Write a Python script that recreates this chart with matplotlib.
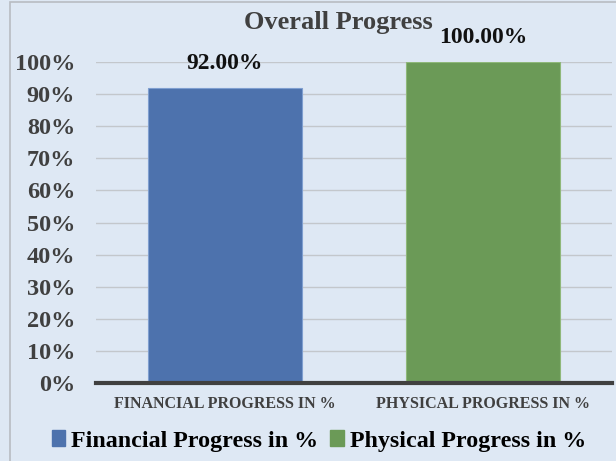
import numpy as np
import matplotlib
matplotlib.use('Agg')
import matplotlib.pyplot as plt
from matplotlib.patches import Rectangle

# data
categories = ['FINANCIAL PROGRESS IN %', 'PHYSICAL PROGRESS IN %']
series_names = ['Financial Progress in %', 'Physical Progress in %']
values = [0.92, 1.00]
value_labels = ['92.00%', '100.00%']
yticks = [0.0, 0.1, 0.2, 0.3, 0.4, 0.5, 0.6, 0.7, 0.8, 0.9, 1.0]
colors = ['#4d72ad', '#6b9a57']
edges = ['#7f9fd0', '#8fb87a']

plt.rcParams['font.family'] = ['Liberation Serif', 'DejaVu Serif']

fig = plt.figure(figsize=(6.16, 4.61), dpi=100)
fig.patch.set_facecolor('#dee8f4')
fig.patches.append(Rectangle((10 / 616, -0.01), 1.1, 1.0 - 2 / 461 + 0.01,
                             transform=fig.transFigure, fill=False,
                             edgecolor='#b8bcc2', linewidth=1.2))

ax = fig.add_axes([96 / 616, 1 - 383 / 461, 516 / 616, 321 / 461])
ax.set_facecolor('none')

x = np.arange(len(categories))
bars = ax.bar(x, values, width=0.6, color=colors, edgecolor=edges, linewidth=0.8,
              zorder=3)

ax.set_xlim(-0.5, 1.5)
ax.set_ylim(0, 1.0)
ax.set_yticks(yticks)
ax.set_yticklabels([f'{int(round(t * 100))}%' for t in yticks],
                   fontsize=17.5, fontweight='bold', color='#404040')
ax.set_xticks(x)
ax.set_xticklabels(categories, fontsize=11.5, fontweight='bold', color='#404040')
ax.tick_params(axis='both', length=0)
ax.tick_params(axis='y', pad=15)
ax.tick_params(axis='x', pad=9)
ax.grid(axis='y', color='#c3c7cc', linewidth=1.0, zorder=0)
for s in ['top', 'right', 'left']:
    ax.spines[s].set_visible(False)
ax.spines['bottom'].set_color('#404040')
ax.spines['bottom'].set_linewidth(3)
ax.spines['bottom'].set_zorder(4)

for b, lab in zip(bars, value_labels):
    ax.annotate(lab, xy=(b.get_x() + b.get_width() / 2, b.get_height()),
                xytext=(0, 17.5), textcoords='offset points', ha='center',
                va='center', fontsize=17, fontweight='bold', color='#111111')

fig.text(338 / 616, 1 - 22 / 461, 'Overall Progress', ha='center', va='center',
         fontsize=19, fontweight='bold', color='#404040')

handles = [Rectangle((0, 0), 1, 1, color=c) for c in colors]
fig.legend(handles, series_names, loc='center', bbox_to_anchor=(319 / 616, 1 - 441 / 461),
           ncol=2, frameon=False, handlelength=0.55, handleheight=0.6,
           handletextpad=0.25, columnspacing=0.5,
           prop={'size': 17.3, 'weight': 'bold'})

plt.savefig('out.png', dpi=100, facecolor=fig.get_facecolor())
plt.close()
